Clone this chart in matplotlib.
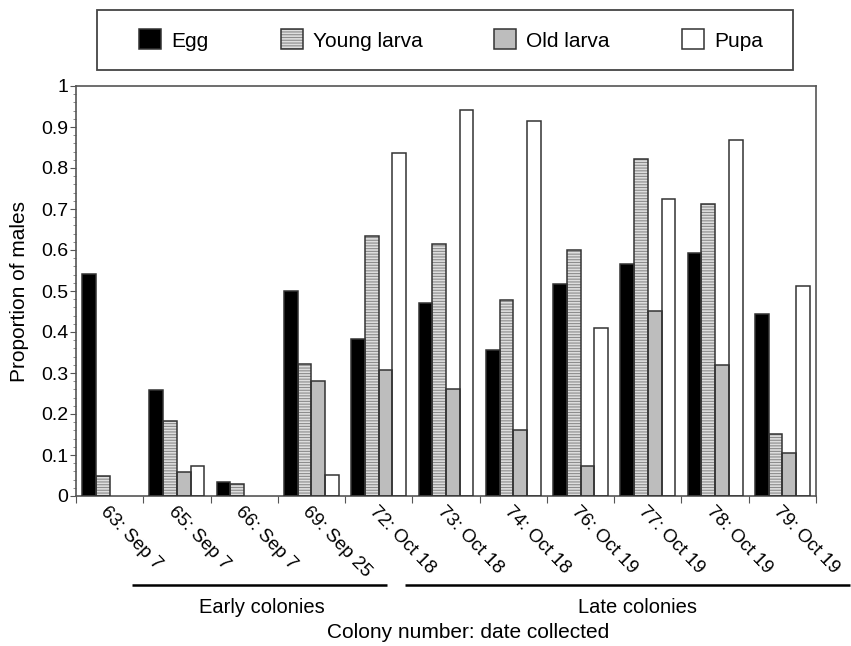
import matplotlib
matplotlib.use("Agg")
import matplotlib.pyplot as plt
import numpy as np
from matplotlib.patches import Patch, Rectangle
from matplotlib.legend_handler import HandlerTuple
from matplotlib.ticker import MultipleLocator

plt.rcParams['font.family'] = ['Liberation Sans', 'DejaVu Sans']
plt.rcParams['hatch.linewidth'] = 0.8

# data
colonies = ["63: Sep 7", "65: Sep 7", "66: Sep 7", "69: Sep 25", "72: Oct 18",
            "73: Oct 18", "74: Oct 18", "76: Oct 19", "77: Oct 19", "78: Oct 19",
            "79: Oct 19"]
egg = [0.542, 0.258, 0.035, 0.500, 0.384, 0.471, 0.357, 0.516, 0.566, 0.593, 0.445]
young_larva = [0.049, 0.183, 0.029, 0.323, 0.635, 0.614, 0.477, 0.599, 0.823, 0.712, 0.151]
old_larva = [0.0, 0.058, 0.0, 0.280, 0.307, 0.260, 0.161, 0.073, 0.451, 0.319, 0.104]
pupa = [0.0, 0.073, 0.0, 0.051, 0.837, 0.941, 0.914, 0.410, 0.724, 0.869, 0.511]
stages = ["Egg", "Young larva", "Old larva", "Pupa"]
groups = ["Early colonies", "Late colonies"]

edge = '#333333'
fills = ['black', '#dedede', '#bdbdbd', 'white']
hatches = [None, '------', None, None]

fig = plt.figure(figsize=(8.51, 6.46), dpi=100)
ax = fig.add_axes([76/851, 1-496/646, 740/851, 410/646])

x = np.arange(len(colonies))
w = 0.204
handles = []
for k, vals in enumerate([egg, young_larva, old_larva, pupa]):
    pos = x + (k - 1.5) * w
    ecs = [edge if v > 0 else 'none' for v in vals]
    # hatch drawn first with a gray line colour, outline on top
    ax.bar(pos, vals, w, color=fills[k], edgecolor='#8c8c8c', linewidth=0,
           hatch=hatches[k], zorder=2)
    ax.bar(pos, vals, w, color='none', edgecolor=ecs, linewidth=1.1, zorder=3)
    h1 = Patch(facecolor=fills[k], edgecolor='#8c8c8c', linewidth=0, hatch=hatches[k])
    h2 = Patch(facecolor='none', edgecolor=edge, linewidth=1.1)
    handles.append((h1, h2))

ax.set_xlim(-0.5, len(colonies) - 0.5)
ax.set_ylim(0, 1)

# ticks between groups, labels at group centres
ax.set_xticks(np.arange(len(colonies) + 1) - 0.5)
ax.set_xticklabels([])
ax.set_xticks(x, colonies, minor=True)
ax.tick_params(axis='x', which='major', direction='out', length=5, color='#555555')
ax.tick_params(axis='x', which='minor', length=0, pad=5, labelsize=13.5)
for lab in ax.get_xticklabels(minor=True):
    lab.set_rotation(-46)
    lab.set_ha('left')
    lab.set_va('top')
    lab.set_rotation_mode('anchor')

yt = np.round(np.arange(0, 1.01, 0.1), 1)
ax.set_yticks(yt, [f"{v:g}" for v in yt])
ax.yaxis.set_minor_locator(MultipleLocator(0.02))
ax.tick_params(axis='y', which='major', direction='out', length=4, color='#555555',
               labelsize=14, pad=1.5)
ax.tick_params(axis='y', which='minor', direction='out', length=2.5, color='#777777')

for s in ax.spines.values():
    s.set_color('#555555')
    s.set_linewidth(1.2)

ax.set_ylabel("Proportion of males", fontsize=15)
ax.yaxis.set_label_coords(-0.064, 0.5)

# group bars under the tick labels
trans = ax.get_xaxis_transform()
line_ext = [(0.33, 4.12), (4.39, 11.0)]
text_x = [2.27, 7.84]
for name, (a, b), tx in zip(groups, line_ext, text_x):
    ax.plot([a, b], [-0.217, -0.217], color='black', lw=1.8, transform=trans,
            clip_on=False, solid_capstyle='butt')
    ax.text(tx, -0.271, name, transform=trans, ha='center', va='center', fontsize=14.5)

ax.text(0.53, -0.334, "Colony number: date collected", transform=ax.transAxes,
        ha='center', va='center', fontsize=15)

# legend box
fig.patches.append(Rectangle((97/851, 1-70/646), 696/851, 60/646, transform=fig.transFigure,
                             facecolor='white', edgecolor='#444444', linewidth=1.3))
fig.legend(handles, stages, handler_map={tuple: HandlerTuple(ndivide=1, pad=0)},
           loc='center', bbox_to_anchor=(451/851, 1-40/646), ncol=4, frameon=False,
           fontsize=15, handlelength=1.06, handleheight=1.1, handletextpad=0.48,
           columnspacing=3.45)

fig.savefig("out.png", dpi=100)
